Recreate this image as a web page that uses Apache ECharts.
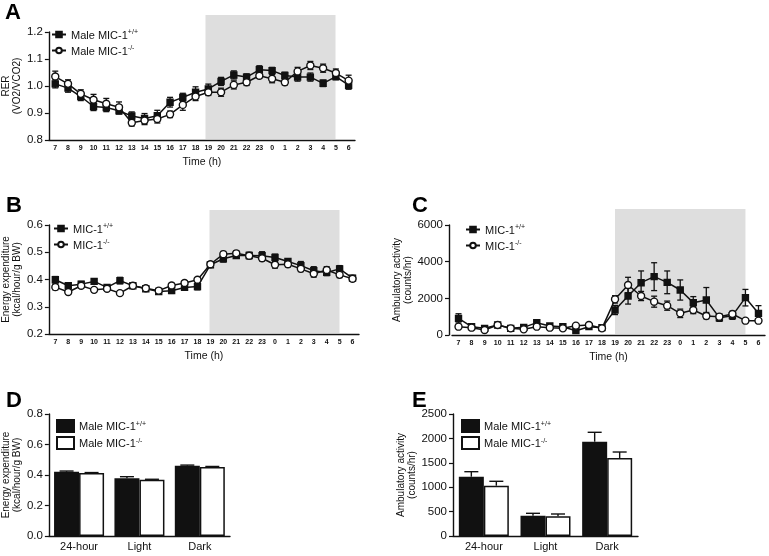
<!DOCTYPE html>
<html><head><meta charset="utf-8">
<script src="https://cdn.jsdelivr.net/npm/echarts@6/dist/echarts.min.js"></script>
<style>html,body{margin:0;padding:0;background:#fff}#c{width:769px;height:556px}</style>
</head><body><div id="c"></div>
<script>
const hours = ['7','8','9','10','11','12','13','14','15','16','17','18','19','20','21','22','23','0','1','2','3','4','5','6'];
const darkStart = '19', darkEnd = '5';

const rerWt    = [1.008,0.992,0.961,0.924,0.920,0.908,0.889,0.880,0.890,0.940,0.958,0.977,0.989,1.017,1.041,1.033,1.060,1.057,1.039,1.033,1.033,1.010,1.035,1.003];
const rerWtErr = [0.015,0.015,0.015,0.015,0.015,0.012,0.015,0.018,0.020,0.018,0.015,0.020,0.018,0.015,0.015,0.012,0.015,0.012,0.012,0.015,0.015,0.012,0.012,0.015];
const rerKo    = [1.035,1.008,0.971,0.949,0.934,0.921,0.864,0.872,0.878,0.895,0.930,0.961,0.977,0.977,1.004,1.014,1.038,1.027,1.014,1.054,1.076,1.066,1.048,1.020];
const rerKoErr = [0.020,0.015,0.015,0.020,0.020,0.020,0.012,0.015,0.015,0.012,0.020,0.015,0.012,0.015,0.015,0.012,0.010,0.015,0.010,0.015,0.015,0.015,0.015,0.020];

const eeWt    = [0.399,0.377,0.383,0.393,0.371,0.396,0.377,0.366,0.356,0.359,0.371,0.374,0.454,0.476,0.488,0.488,0.487,0.481,0.466,0.451,0.432,0.426,0.439,0.405];
const eeWtErr = [0.012,0.008,0.010,0.010,0.008,0.012,0.008,0.008,0.008,0.010,0.010,0.012,0.010,0.012,0.010,0.012,0.015,0.012,0.010,0.015,0.015,0.012,0.012,0.010];
const eeKo    = [0.372,0.354,0.377,0.362,0.366,0.350,0.377,0.368,0.359,0.378,0.387,0.399,0.456,0.493,0.496,0.487,0.478,0.454,0.456,0.439,0.421,0.435,0.417,0.403];
const eeKoErr = [0.010,0.008,0.008,0.008,0.008,0.008,0.008,0.008,0.008,0.008,0.008,0.008,0.008,0.010,0.010,0.010,0.010,0.012,0.010,0.010,0.012,0.012,0.010,0.008];

const actWt    = [909,455,364,545,364,418,673,491,455,236,455,400,1364,2127,2854,3182,2873,2454,1764,1909,945,1055,2036,1182];
const actWtErr = [250,80,80,80,80,80,120,80,80,80,100,80,250,440,640,760,620,550,330,680,200,200,450,420];
const actKo    = [455,400,273,545,364,309,455,400,364,509,545,364,1945,2727,2127,1818,1600,1182,1364,1036,1000,1145,782,782];
const actKoErr = [80,60,60,60,60,60,80,60,60,60,80,60,200,420,250,300,250,230,200,150,150,150,100,100];

const barCats = ['24-hour','Light','Dark'];
const eeBarWt = [0.421,0.379,0.461], eeBarWtErr = [0.005,0.010,0.004];
const eeBarKo = [0.413,0.369,0.453], eeBarKoErr = [0.003,0.003,0.003];
const actBarWt = [1215,416,1932], actBarWtErr = [103,49,193];
const actBarKo = [1031,404,1598], actBarKoErr = [90,47,123];

const legendText = {
  Awt:['Male MIC-1','+/+'], Ako:['Male MIC-1','-/-'],
  Bwt:['MIC-1','+/+'], Bko:['MIC-1','-/-'],
  Cwt:['MIC-1','+/+'], Cko:['MIC-1','-/-'],
  Dwt:['Male MIC-1','+/+'], Dko:['Male MIC-1','-/-'],
  Ewt:['Male MIC-1','+/+'], Eko:['Male MIC-1','-/-']
};

const FONT = 'Liberation Sans, Arial, Helvetica, sans-serif';
const INK = '#111';
const SHADE = '#dedede';

const grids = [
  {left:43, top:32, width:312, height:108},
  {left:47, top:225, width:312, height:109},
  {left:452, top:225, width:313, height:110},
  {left:47, top:414, width:183, height:122},
  {left:453, top:414, width:185, height:122},
  {left:43, top:15, width:312, height:124},
  {left:47, top:210, width:312, height:123},
  {left:452, top:209, width:313, height:125}
];

const axisLine = {lineStyle:{color:INK, width:1.4}};
function timeX(gi){
  return {gridIndex:gi, type:'category', data:hours, boundaryGap:true, z:5,
    axisLine:axisLine, axisTick:{alignWithLabel:true, length:3, lineStyle:{color:INK,width:1.2}},
    axisLabel:{fontSize:7, color:INK, margin:5, fontFamily:FONT, interval:0, fontWeight:'bold'},
    name:'Time (h)', nameLocation:'middle', nameGap:17,
    nameTextStyle:{fontSize:10.5, color:INK, fontFamily:FONT}};
}
function barX(gi){
  return {gridIndex:gi, type:'category', data:barCats, boundaryGap:true, z:5,
    axisLine:axisLine, axisTick:{alignWithLabel:true, length:4, lineStyle:{color:INK,width:1.2}},
    axisLabel:{fontSize:11, color:INK, margin:5, fontFamily:FONT}};
}
function valY(gi, min, max, interval, dec, name, gap, offset){
  return {gridIndex:gi, type:'value', min:min, max:max, interval:interval, offset:offset||0, z:5,
    splitLine:{show:false}, axisLine:{show:true, lineStyle:{color:INK,width:1.4}},
    axisTick:{show:true, length:4, lineStyle:{color:INK,width:1.2}},
    axisLabel:{fontSize:11.5, color:INK, margin:6, fontFamily:FONT,
      formatter:(v)=> dec>0 ? v.toFixed(dec) : String(v)},
    name:name, nameLocation:'middle', nameRotate:90, nameGap:gap,
    nameTextStyle:{fontSize:10, color:INK, fontFamily:FONT, lineHeight:11}};
}

const xAxes = [timeX(0), timeX(1), timeX(2), barX(3), barX(4)];
const yAxes = [
  valY(0, 0.8, 1.2, 0.1, 1, 'RER\n(VO2/VCO2)', 18),
  valY(1, 0.2, 0.6, 0.1, 1, 'Energy expenditure\n(kcal/hour/g BW)', 22),
  valY(2, 0, 6000, 2000, 0, 'Ambulatory activity\n(counts/hr)', 25, 3),
  valY(3, 0, 0.8, 0.2, 1, 'Energy expenditure\n(kcal/hour/g BW)', 22),
  valY(4, 0, 2500, 500, 0, 'Ambulatory activity\n(counts/hr)', 33)
];
for (let g = 5; g <= 7; g++) {
  xAxes.push({gridIndex:g, type:'category', data:hours, boundaryGap:true, show:false});
  yAxes.push({gridIndex:g, type:'value', min:0, max:1, show:false});
}

function lineSeries(name, xi, data, filled){
  return {name:name, type:'line', xAxisIndex:xi, yAxisIndex:xi, data:data, z:4,
    symbol: filled ? 'rect' : 'circle', symbolSize: filled ? 6 : 7,
    lineStyle:{color:INK, width:1.5},
    itemStyle:{color: filled ? INK : '#fff', borderColor:INK, borderWidth:1.4},
    emphasis:{disabled:true}, animation:false};
}
function errSeries(xi, vals, errs){
  return {type:'custom', xAxisIndex:xi, yAxisIndex:xi, z:3, animation:false, silent:true,
    data: vals.map((v,i)=>[i, v, errs[i]]),
    renderItem:function(params, api){
      const i = api.value(0), v = api.value(1), e = api.value(2);
      const t = api.coord([i, v+e]), b = api.coord([i, v-e]);
      const w = 3, st = {stroke:INK, lineWidth:1.3};
      return {type:'group', children:[
        {type:'line', shape:{x1:t[0],y1:t[1],x2:b[0],y2:b[1]}, style:st},
        {type:'line', shape:{x1:t[0]-w,y1:t[1],x2:t[0]+w,y2:t[1]}, style:st},
        {type:'line', shape:{x1:b[0]-w,y1:b[1],x2:b[0]+w,y2:b[1]}, style:st}
      ]};
    }};
}
const BW = 25;
function barSeries(name, xi, data, filled){
  return {name:name, type:'bar', xAxisIndex:xi, yAxisIndex:xi, data:data, barWidth:BW, barGap:'0%', z:4,
    itemStyle:{color: filled ? INK : '#fff', borderColor:INK, borderWidth:1.5},
    emphasis:{disabled:true}, animation:false};
}
function barErr(xi, vals, errs, off){
  return {type:'custom', xAxisIndex:xi, yAxisIndex:xi, z:5, animation:false, silent:true,
    data: vals.map((v,i)=>[i, v, errs[i]]),
    renderItem:function(params, api){
      const i = api.value(0), v = api.value(1), e = api.value(2);
      const t = api.coord([i, v+e]), b = api.coord([i, v]);
      const x = t[0] + off, w = 7, st = {stroke:INK, lineWidth:1.4};
      return {type:'group', children:[
        {type:'line', shape:{x1:x,y1:t[1],x2:x,y2:b[1]}, style:st},
        {type:'line', shape:{x1:x-w,y1:t[1],x2:x+w,y2:t[1]}, style:st}
      ]};
    }};
}
function shade(xi){
  return {type:'line', xAxisIndex:xi, yAxisIndex:xi, data:[], z:1, silent:true, animation:false,
    markArea:{silent:true, itemStyle:{color:SHADE}, data:[[{xAxis:darkStart},{xAxis:darkEnd}]]}};
}

const series = [
  shade(5), shade(6), shade(7),
  errSeries(0, rerWt, rerWtErr), errSeries(0, rerKo, rerKoErr),
  lineSeries('Awt', 0, rerWt, true), lineSeries('Ako', 0, rerKo, false),
  errSeries(1, eeWt, eeWtErr), errSeries(1, eeKo, eeKoErr),
  lineSeries('Bwt', 1, eeWt, true), lineSeries('Bko', 1, eeKo, false),
  errSeries(2, actWt, actWtErr), errSeries(2, actKo, actKoErr),
  lineSeries('Cwt', 2, actWt, true), lineSeries('Cko', 2, actKo, false),
  barSeries('Dwt', 3, eeBarWt, true), barSeries('Dko', 3, eeBarKo, false),
  barErr(3, eeBarWt, eeBarWtErr, -BW/2), barErr(3, eeBarKo, eeBarKoErr, BW/2),
  barSeries('Ewt', 4, actBarWt, true), barSeries('Eko', 4, actBarKo, false),
  barErr(4, actBarWt, actBarWtErr, -BW/2), barErr(4, actBarKo, actBarKoErr, BW/2)
];

const rich = {t:{fontSize:11, color:INK, fontFamily:FONT}, s:{fontSize:7, color:INK, fontFamily:FONT, padding:[0,0,6,0]}};
function legend(names, left, top, isBar){
  const l = {data:names, left:left, top:top, orient:'vertical', itemGap:isBar?3:4,
    itemWidth:isBar?17:14, itemHeight:isBar?12:7, selectedMode:false,
    formatter:(n)=>'{t|'+legendText[n][0]+'}{s|'+legendText[n][1]+'}',
    textStyle:{rich:rich, padding:[2,0,0,0]}};
  if (isBar) l.icon = 'rect';
  return l;
}

const option = {
  animation:false,
  textStyle:{fontFamily:FONT},
  grid:grids,
  xAxis:xAxes, yAxis:yAxes, series:series,
  legend:[
    legend(['Awt','Ako'], 46, 24, false),
    legend(['Bwt','Bko'], 48, 218, false),
    legend(['Cwt','Cko'], 460, 219, false),
    legend(['Dwt','Dko'], 51, 414, true),
    legend(['Ewt','Eko'], 456, 414, true)
  ],
  graphic:[
    {type:'text', left:5, top:2, style:{text:'A', fontSize:22, fontWeight:'bold', fill:'#000', fontFamily:FONT}},
    {type:'text', left:6, top:195, style:{text:'B', fontSize:22, fontWeight:'bold', fill:'#000', fontFamily:FONT}},
    {type:'text', left:412, top:195, style:{text:'C', fontSize:22, fontWeight:'bold', fill:'#000', fontFamily:FONT}},
    {type:'text', left:6, top:390, style:{text:'D', fontSize:22, fontWeight:'bold', fill:'#000', fontFamily:FONT}},
    {type:'text', left:412, top:390, style:{text:'E', fontSize:22, fontWeight:'bold', fill:'#000', fontFamily:FONT}}
  ]
};
const chart = echarts.init(document.getElementById('c'), null, {renderer:'canvas'});
chart.setOption(option);
</script></body></html>
